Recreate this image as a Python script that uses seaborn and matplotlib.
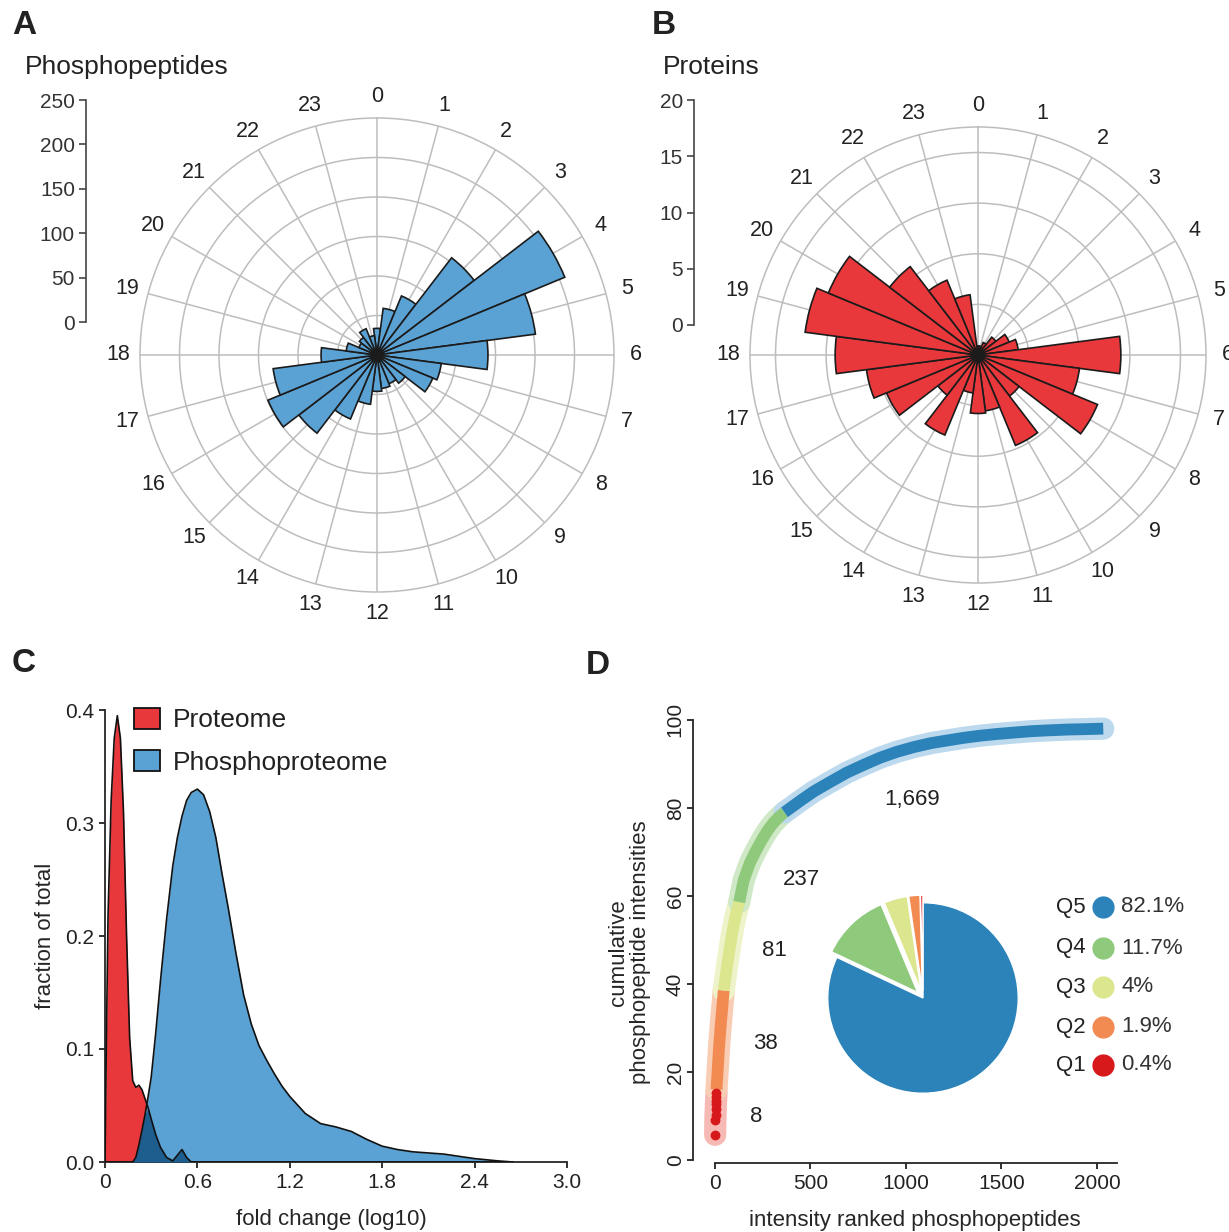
import numpy as np
import matplotlib
matplotlib.use('Agg')
import matplotlib.pyplot as plt
import seaborn as sns
from matplotlib.patches import Patch
from matplotlib.lines import Line2D

# ---- data ----
hours = list(range(24))
phospho_counts = [30, 53, 72, 138, 229, 180, 125, 73, 68, 40, 35, 38,
                  41, 56, 78, 111, 133, 118, 63, 35, 22, 25, 32, 22]
protein_counts = [0.8, 0.8, 1.2, 2.0, 3.0, 3.6, 12.7, 9.1, 11.5, 4.6, 8.7, 5.0,
                  5.2, 3.4, 7.7, 4.5, 8.8, 10.0, 12.7, 15.5, 14.4, 9.9, 7.2, 5.4]

fold_change = [0, 0.01, 0.02, 0.04, 0.06, 0.08, 0.10, 0.12, 0.14, 0.16, 0.18, 0.20,
               0.22, 0.24, 0.26, 0.28, 0.30, 0.33, 0.36, 0.40, 0.44, 0.47, 0.50, 0.53,
               0.56, 0.60, 0.64, 0.68, 0.72, 0.76, 0.80, 0.85, 0.90, 0.95, 1.00, 1.05,
               1.10, 1.15, 1.20, 1.30, 1.40, 1.50, 1.60, 1.70, 1.80, 1.90, 2.00, 2.20,
               2.40, 2.55, 2.65]
proteome_frac = [0.0, 0.12, 0.22, 0.32, 0.375, 0.395, 0.375, 0.31, 0.20, 0.11, 0.072, 0.066,
                 0.068, 0.064, 0.056, 0.048, 0.038, 0.024, 0.013, 0.004, 0.001, 0.006, 0.011, 0.004,
                 0.0, 0.0, 0.0, 0.0, 0.0, 0.0, 0.0, 0.0, 0.0, 0.0, 0.0, 0.0,
                 0.0, 0.0, 0.0, 0.0, 0.0, 0.0, 0.0, 0.0, 0.0, 0.0, 0.0, 0.0,
                 0.0, 0.0, 0.0]
phospho_frac = [0.0, 0.0, 0.0, 0.0, 0.0, 0.0, 0.0, 0.0, 0.0, 0.0, 0.0, 0.004,
                0.015, 0.028, 0.042, 0.058, 0.075, 0.115, 0.16, 0.215, 0.262, 0.287, 0.306, 0.32,
                0.327, 0.33, 0.325, 0.31, 0.287, 0.255, 0.225, 0.185, 0.148, 0.122, 0.103, 0.09,
                0.078, 0.067, 0.058, 0.043, 0.034, 0.031, 0.027, 0.02, 0.014, 0.011, 0.009, 0.007,
                0.003, 0.001, 0.0]

q_names = ['Q1', 'Q2', 'Q3', 'Q4', 'Q5']
q_share = [0.4, 1.9, 4, 11.7, 82.1]
q_counts = ['8', '38', '81', '237', '1,669']
rank_q1 = [1, 2, 3, 4, 5, 6, 7, 8]
cum_q1 = [5.7, 9.0, 10.3, 11.5, 12.6, 13.5, 14.4, 15.3]
rank_q2 = [8, 15, 22, 30, 38, 46]
cum_q2 = [16.0, 21.0, 26.0, 30.5, 34.5, 38.5]
rank_q3 = [46, 60, 75, 90, 108, 127]
cum_q3 = [38.5, 43.0, 47.5, 51.5, 55.5, 58.6]
rank_q4 = [127, 150, 183, 215, 244, 275, 306, 335, 364]
cum_q4 = [58.6, 63.5, 67.5, 70.3, 72.6, 74.8, 76.6, 77.9, 79.0]
rank_q5 = [364, 450, 520, 600, 690, 780, 865, 950, 1040, 1130, 1214, 1300,
           1389, 1480, 1564, 1650, 1738, 1850, 1950, 2033]
cum_q5 = [79.0, 81.7, 83.8, 85.8, 88.0, 89.8, 91.4, 92.7, 93.8, 94.7, 95.3, 95.9,
          96.4, 96.8, 97.1, 97.4, 97.6, 97.8, 97.9, 98.0]

# ---- style ----
W, H = 1229, 1232
RED = '#E8383B'
BLUE = '#5BA2D4'
DARK = '#1D5E8E'
Q_COLORS = ['#D7191C', '#F28B52', '#DCE68E', '#8FC97C', '#2B83BA']
Q_HALO = ['#F6B9B4', '#F9CDB4', '#EEF3C9', '#CFE8C6', '#BCD9EE']
TXT = '#222222'

sns.set_style('ticks')
plt.rcParams['font.family'] = ['Liberation Sans', 'DejaVu Sans']
plt.rcParams['text.color'] = TXT
plt.rcParams['xtick.color'] = TXT
plt.rcParams['ytick.color'] = TXT


def px_box(l, t, r, b):
    return [l / W, 1 - b / H, (r - l) / W, (b - t) / H]


fig = plt.figure(figsize=(W / 100, H / 100), dpi=100)


def rose(box, counts, rmax, rings, color):
    ax = fig.add_axes(box, projection='polar')
    ax.set_theta_zero_location('N')
    ax.set_theta_direction(-1)
    ax.set_axisbelow(True)
    theta = np.deg2rad(np.array(hours) * 15)
    ax.bar(theta, counts, width=np.deg2rad(15), bottom=0, color=color,
           edgecolor='#1b1b1b', linewidth=1.2, zorder=3)
    ax.set_xticks(theta)
    ax.set_xticklabels([str(h) for h in hours], fontsize=15.5)
    ax.set_ylim(0, rmax)
    ax.set_yticks(rings)
    ax.set_yticklabels([])
    ax.grid(True, color='#bdbdbd', lw=1.1)
    ax.spines['polar'].set_color('#bdbdbd')
    ax.spines['polar'].set_linewidth(1.1)
    ax.tick_params(axis='x', pad=5)
    return ax


def scale_bar(box, top, step):
    ax = fig.add_axes(box)
    ax.set_ylim(0, top)
    ax.set_yticks(np.arange(0, top + 1, step))
    ax.set_xticks([])
    for s in ['top', 'right', 'bottom']:
        ax.spines[s].set_visible(False)
    ax.spines['left'].set_color('#444444')
    ax.spines['left'].set_linewidth(1.2)
    ax.tick_params(axis='y', length=5, width=1.2, color='#444444',
                   labelsize=15, labelcolor='#333333', pad=3)
    ax.patch.set_alpha(0)
    return ax


# A / B: rose plots
rose(px_box(140, 118, 614, 592), phospho_counts, 267, [44.5 * k for k in range(1, 6)], BLUE)
scale_bar(px_box(86, 100, 87, 322), 250, 50)
rose(px_box(750, 127, 1206, 583), protein_counts, 20.27, [4.5, 9, 13.5, 18], RED)
scale_bar(px_box(694, 100, 695, 325), 20, 5)

fig.text(25 / W, 1 - 67 / H, 'Phosphopeptides', fontsize=19, va='center')
fig.text(663 / W, 1 - 67 / H, 'Proteins', fontsize=19, va='center')

# C: distributions
axC = fig.add_axes(px_box(105, 710, 567, 1162))
fc = np.array(fold_change)
red = np.array(proteome_frac)
blue = np.array(phospho_frac)
axC.fill_between(fc, 0, red, color=RED, lw=0, zorder=1)
axC.fill_between(fc, 0, blue, color=BLUE, lw=0, zorder=2)
axC.fill_between(fc, 0, np.minimum(red, blue), color=DARK, lw=0, zorder=3)
sns.lineplot(x=fc, y=red, color='#111111', lw=1.2, ax=axC, zorder=4)
sns.lineplot(x=fc, y=blue, color='#111111', lw=1.2, ax=axC, zorder=4)
axC.set_xlim(0, 3)
axC.set_ylim(0, 0.4)
axC.set_xticks([0, 0.6, 1.2, 1.8, 2.4, 3.0])
axC.set_xticklabels(['0', '0.6', '1.2', '1.8', '2.4', '3.0'])
axC.set_yticks([0, 0.1, 0.2, 0.3, 0.4])
axC.set_yticklabels(['0.0', '0.1', '0.2', '0.3', '0.4'])
sns.despine(ax=axC)
for s in ['left', 'bottom']:
    axC.spines[s].set_linewidth(1.3)
axC.tick_params(length=4, width=1.3, labelsize=15, pad=4)
axC.set_xlabel('fold change (log10)', fontsize=16)
axC.set_ylabel('fraction of total', fontsize=16)
axC.xaxis.set_label_coords(0.49, -0.105)
axC.yaxis.set_label_coords(-0.105, 0.5)
handles = [Patch(facecolor=RED, edgecolor='#111111', lw=1.3),
           Patch(facecolor=BLUE, edgecolor='#111111', lw=1.3)]
axC.legend(handles, ['Proteome', 'Phosphoproteome'], loc='upper left',
           bbox_to_anchor=(0.062, 1.005), fontsize=19, frameon=False,
           handlelength=1.0, handleheight=0.85, handletextpad=0.5,
           labelspacing=0.68, borderaxespad=0, borderpad=0)

# D: cumulative intensities
axD = fig.add_axes(px_box(693, 715, 1117, 1163))
segments = [(rank_q1, cum_q1), (rank_q2, cum_q2), (rank_q3, cum_q3),
            (rank_q4, cum_q4), (rank_q5, cum_q5)]
for (rk, cm), hc in zip(segments, Q_HALO):
    sns.lineplot(x=rk, y=cm, color=hc, lw=16, ax=axD, solid_capstyle='round', zorder=1)
for (rk, cm), col in list(zip(segments, Q_COLORS))[1:]:
    sns.lineplot(x=rk, y=cm, color=col, lw=8.5, ax=axD, solid_capstyle='butt', zorder=2)
sns.scatterplot(x=rank_q1, y=cum_q1, color=Q_COLORS[0], s=50, linewidth=0, ax=axD, zorder=3)
count_pos = [(218, 9.9), (267, 26.5), (314, 47.6), (454, 63.8), (1031, 81.9)]
for lab, (tx, ty) in zip(q_counts, count_pos):
    axD.text(tx, ty, lab, fontsize=16, ha='center', va='center')
axD.set_xlim(-115, 2105)
axD.set_ylim(-0.7, 101.1)
axD.set_xticks([0, 500, 1000, 1500, 2000])
axD.set_yticks([0, 20, 40, 60, 80, 100])
sns.despine(ax=axD)
axD.spines['left'].set_bounds(0, 100)
axD.spines['bottom'].set_bounds(0, 2105)
for s in ['left', 'bottom']:
    axD.spines[s].set_linewidth(1.3)
axD.tick_params(length=4, width=1.3, labelsize=15, pad=4)
axD.tick_params(axis='y', pad=2)
for t in axD.get_yticklabels():
    t.set_rotation(90)
    t.set_va('center')
axD.set_xlabel('intensity ranked phosphopeptides', fontsize=16)
axD.set_ylabel('cumulative\nphosphopeptide intensities', fontsize=16, linespacing=1.05)
axD.xaxis.set_label_coords(0.524, -0.105)
axD.yaxis.set_label_coords(-0.10, 0.47)

# pie inset
axP = fig.add_axes(px_box(803, 878, 1043, 1118))
pie_order = [4, 3, 2, 1, 0]
axP.pie([q_share[i] for i in pie_order], colors=[Q_COLORS[i] for i in pie_order],
        startangle=90, counterclock=False, explode=[0, 0.08, 0.08, 0.08, 0.08],
        wedgeprops=dict(edgecolor='white', linewidth=1.0))
axP.set_xlim(-1.26, 1.26)
axP.set_ylim(-1.26, 1.26)
axP.set_aspect('equal')
axP.axis('off')

# quintile legend
row_y = [1065, 1027, 987, 948, 907]
for name, share, col, yy in zip(q_names, q_share, Q_COLORS, row_y):
    fig.text(1086 / W, 1 - yy / H, name, fontsize=16, ha='right', va='center')
    fig.add_artist(Line2D([1103 / W], [1 - yy / H], marker='o', ms=15, color=col,
                          transform=fig.transFigure, lw=0))
    fig.text(1121 / W, 1 - yy / H, f'{share:g}%', fontsize=16, ha='left', va='center',
             color='#333333')

# panel letters
for letter, x, y in [('A', 12, 25), ('B', 652, 25), ('C', 12, 663), ('D', 586, 665)]:
    fig.text(x / W, 1 - y / H, letter, fontsize=24, fontweight='bold', va='center')

fig.savefig('out.png', dpi=100)
